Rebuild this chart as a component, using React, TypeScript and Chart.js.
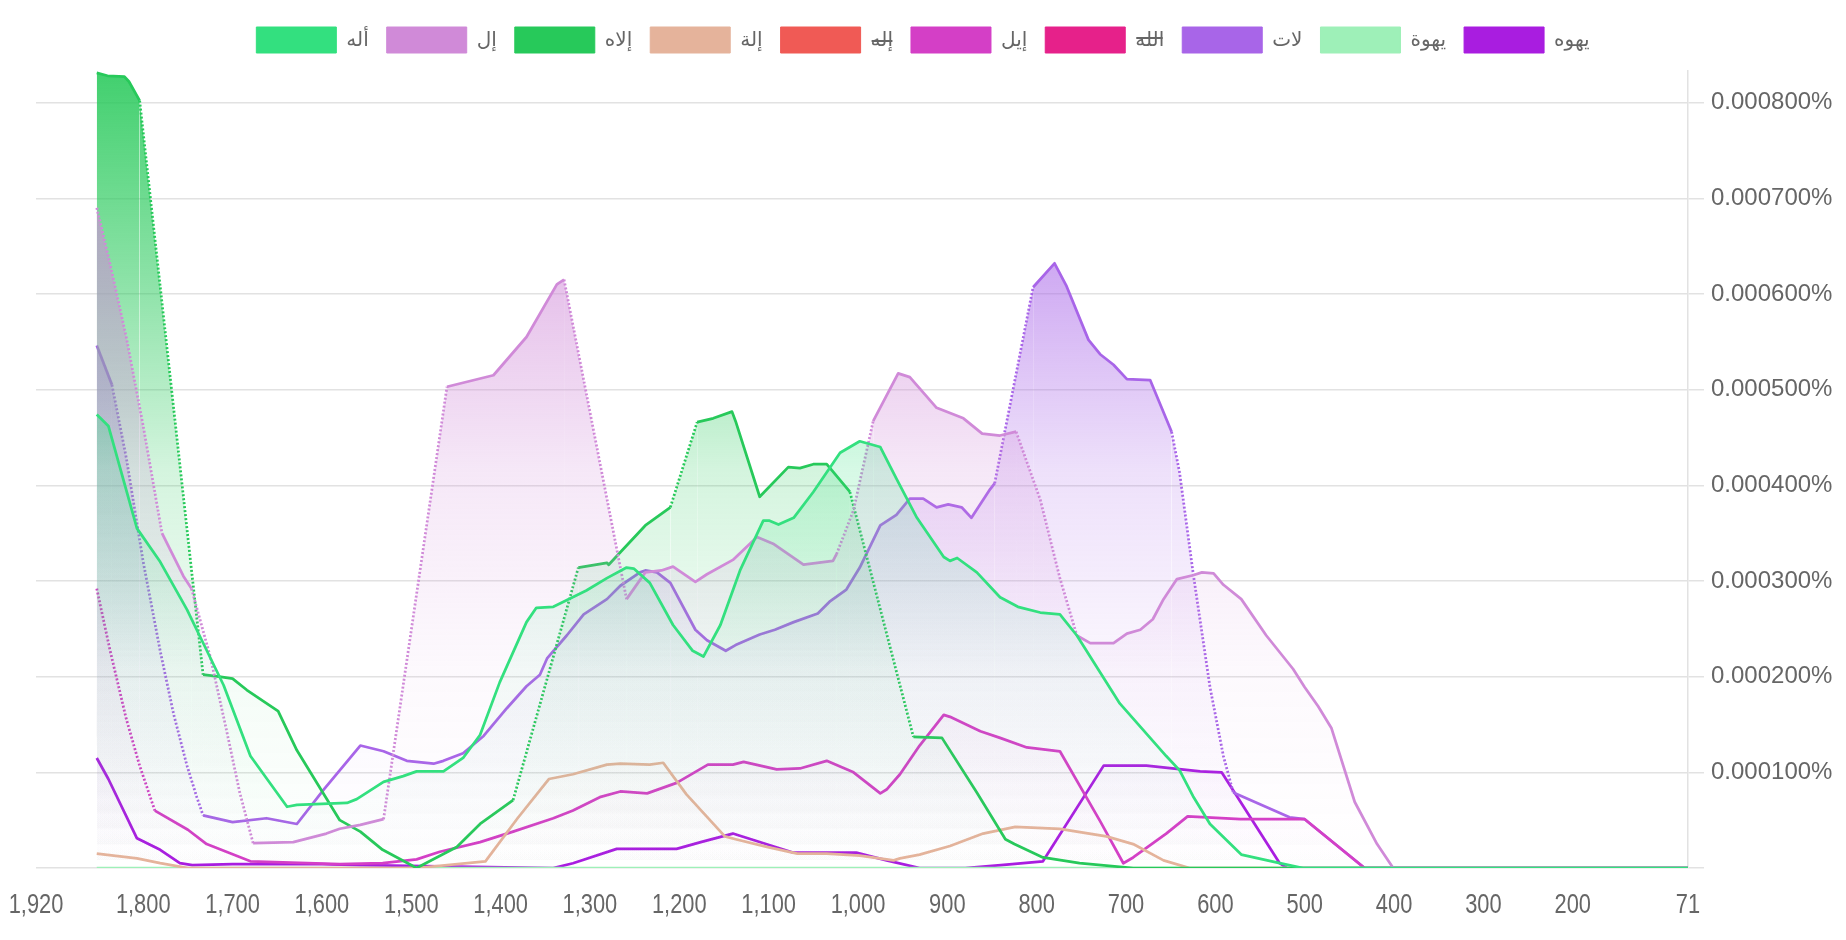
import React, { useEffect, useRef } from 'react';
import { Chart, registerables } from 'chart.js';

Chart.register(...registerables);

// ---- legend / series meta ----
const SERIES_LABELS = ['أله', 'إل', 'إلاه', 'إلة', 'إله', 'إيل', 'الله', 'لات', 'يهوة', 'يهوه'];
const SERIES_COLORS = ['#33e07f', '#d08ad8', '#27c95a', '#e5b39b', '#f05a55', '#d43fc6', '#e6218a', '#a865e8', '#9ef0b8', '#a91de0'];
const SERIES_HIDDEN = [false, false, false, false, true, false, true, false, false, false];

// x-axis tick labels (years, axis reversed)
const X_TICKS = [71, 200, 300, 400, 500, 600, 700, 800, 900, 1000, 1100, 1200, 1300, 1400, 1500, 1600, 1700, 1800, 1920];
const X_MIN = 71;
const X_MAX = 1920;
// y values are in units of 0.0001 %
const Y_MAX = 8.33;

// ---- data: [year, value (x 0.0001 %)] ----
const ALH: [number, number][] = [
  [1852, 4.74], [1839, 4.62], [1807, 3.55], [1781, 3.2], [1751, 2.7], [1737, 2.43], [1710, 1.91], [1680, 1.17],
  [1639, 0.64], [1628, 0.66], [1572, 0.68], [1561, 0.72], [1531, 0.9], [1509, 0.96], [1494, 1.01], [1464, 1.01],
  [1442, 1.15], [1423, 1.39], [1401, 1.94], [1371, 2.57], [1360, 2.72], [1341, 2.73], [1304, 2.9], [1281, 3.03],
  [1259, 3.14], [1251, 3.13], [1233, 2.98], [1207, 2.54], [1185, 2.27], [1173, 2.21], [1154, 2.54], [1132, 3.11],
  [1106, 3.63], [1099, 3.63], [1089, 3.59], [1072, 3.66], [1050, 3.93], [1020, 4.34], [998, 4.46], [975, 4.4],
  [957, 4.07], [934, 3.66], [904, 3.25], [897, 3.21], [889, 3.24], [867, 3.09], [841, 2.83], [821, 2.73],
  [796, 2.67], [774, 2.65], [755, 2.43], [707, 1.72], [655, 1.17], [640, 1.02], [625, 0.75], [606, 0.46],
  [571, 0.14], [528, 0.05], [502, 0], [71, 0],
];
const IL: [number, number][] = [
  [1852, 6.9], [1837, 6.31], [1819, 5.55], [1800, 4.62], [1779, 3.5], [1755, 3.05], [1746, 2.92], [1725, 2.21],
  [1707, 1.45], [1692, 0.79], [1677, 0.26], [1632, 0.27], [1595, 0.36], [1580, 0.41], [1557, 0.45], [1531, 0.51],
  [1460, 5.03], [1408, 5.15], [1371, 5.55], [1337, 6.1], [1329, 6.15], [1259, 2.81], [1238, 3.09], [1220, 3.11],
  [1207, 3.15], [1182, 2.99], [1169, 3.07], [1140, 3.22], [1113, 3.46], [1095, 3.39], [1061, 3.17], [1028, 3.21],
  [1024, 3.28], [1005, 3.74], [983, 4.67], [955, 5.17], [942, 5.13], [912, 4.81], [882, 4.7], [861, 4.54],
  [841, 4.52], [823, 4.56], [796, 3.85], [774, 3.03], [755, 2.43], [740, 2.35], [714, 2.35], [699, 2.45],
  [684, 2.49], [670, 2.6], [658, 2.81], [643, 3.02], [625, 3.06], [615, 3.09], [602, 3.08], [591, 2.96],
  [571, 2.81], [543, 2.43], [513, 2.08], [500, 1.89], [485, 1.69], [470, 1.46], [444, 0.69], [419, 0.25],
  [401, 0], [71, 0],
];
const ILAH: [number, number][] = [
  [1852, 8.31], [1840, 8.28], [1821, 8.27], [1816, 8.22], [1804, 8.02], [1733, 2.02], [1715, 2.0], [1700, 1.98],
  [1684, 1.86], [1649, 1.64], [1628, 1.23], [1580, 0.5], [1557, 0.38], [1532, 0.19], [1494, 0], [1449, 0.22],
  [1423, 0.46], [1386, 0.71], [1313, 3.14], [1281, 3.19], [1279, 3.17], [1266, 3.3], [1244, 3.52], [1238, 3.58],
  [1210, 3.77], [1180, 4.66], [1162, 4.7], [1141, 4.77], [1137, 4.67], [1110, 3.88], [1078, 4.19], [1065, 4.18],
  [1050, 4.22], [1035, 4.22], [1009, 3.93], [938, 1.37], [906, 1.36], [867, 0.79], [835, 0.3], [825, 0.25],
  [793, 0.11], [752, 0.05], [692, 0], [71, 0],
];
const ILAT: [number, number][] = [
  [1852, 0.15], [1807, 0.1], [1781, 0.05], [1750, 0], [1494, 0], [1417, 0.07], [1381, 0.52], [1346, 0.93],
  [1319, 0.98], [1281, 1.08], [1266, 1.09], [1233, 1.08], [1218, 1.1], [1192, 0.77], [1149, 0.33], [1137, 0.3],
  [1102, 0.22], [1068, 0.15], [1035, 0.15], [998, 0.13], [960, 0.08], [953, 0.1], [931, 0.14], [897, 0.23],
  [860, 0.36], [824, 0.43], [774, 0.41], [722, 0.33], [692, 0.25], [658, 0.08], [629, 0], [71, 0],
];
const ILH: [number, number][] = [];
const IIL: [number, number][] = [
  [1852, 2.92], [1837, 2.27], [1819, 1.56], [1804, 1.07], [1787, 0.6], [1750, 0.4], [1729, 0.25], [1680, 0.07],
  [1580, 0.04], [1532, 0.05], [1494, 0.09], [1468, 0.17], [1423, 0.27], [1386, 0.38], [1341, 0.52], [1319, 0.6],
  [1289, 0.74], [1266, 0.8], [1236, 0.78], [1203, 0.89], [1168, 1.08], [1140, 1.08], [1128, 1.11], [1091, 1.03],
  [1065, 1.04], [1035, 1.12], [1005, 1.0], [975, 0.78], [968, 0.82], [953, 0.98], [931, 1.28], [904, 1.6],
  [897, 1.58], [863, 1.43], [841, 1.36], [811, 1.26], [774, 1.22], [729, 0.49], [703, 0.05], [692, 0.11],
  [655, 0.36], [631, 0.54], [572, 0.51], [500, 0.51], [433, 0], [71, 0],
];
const ALLAH: [number, number][] = [];
const LAT: [number, number][] = [
  [1852, 5.46], [1835, 5.05], [1819, 4.29], [1800, 3.2], [1781, 2.27], [1766, 1.61], [1751, 1.07], [1740, 0.74],
  [1733, 0.55], [1700, 0.48], [1662, 0.52], [1628, 0.46], [1598, 0.82], [1557, 1.28], [1531, 1.22], [1505, 1.12],
  [1475, 1.09], [1464, 1.12], [1442, 1.2], [1419, 1.38], [1393, 1.67], [1371, 1.9], [1356, 2.02], [1348, 2.19],
  [1326, 2.43], [1307, 2.65], [1281, 2.81], [1266, 2.95], [1244, 3.09], [1238, 3.11], [1225, 3.09], [1210, 2.98],
  [1182, 2.49], [1169, 2.38], [1148, 2.27], [1137, 2.33], [1110, 2.44], [1093, 2.49], [1072, 2.57], [1045, 2.66],
  [1031, 2.79], [1013, 2.91], [998, 3.14], [975, 3.58], [957, 3.69], [942, 3.86], [927, 3.86], [912, 3.77],
  [899, 3.8], [884, 3.77], [873, 3.66], [852, 3.96], [847, 4.02], [804, 6.07], [780, 6.32], [767, 6.09],
  [742, 5.52], [729, 5.37], [714, 5.26], [699, 5.11], [673, 5.1], [649, 4.56], [640, 4.13], [625, 3.09],
  [606, 1.89], [591, 1.17], [580, 0.79], [517, 0.53], [500, 0.51], [433, 0], [71, 0],
];
const YHWT: [number, number][] = [[1852, 0], [71, 0]];
const YHWH: [number, number][] = [
  [1852, 1.15], [1839, 0.93], [1807, 0.31], [1781, 0.19], [1759, 0.05], [1745, 0.03], [1700, 0.04], [1600, 0.04],
  [1557, 0.03], [1341, 0], [1319, 0.05], [1270, 0.2], [1203, 0.2], [1176, 0.27], [1140, 0.36], [1133, 0.34],
  [1072, 0.16], [1002, 0.16], [968, 0.08], [931, 0], [880, 0], [840, 0.03], [793, 0.07], [725, 1.07],
  [677, 1.07], [617, 1.01], [593, 1.0], [528, 0.05], [520, 0], [71, 0],
];

const SERIES_DATA = [ALH, IL, ILAH, ILAT, ILH, IIL, ALLAH, LAT, YHWT, YHWH];

// dotted (low-confidence) spans per series: [fromYear, toYear]
const DOTTED: [number, number][][] = [
  [],
  [[1852, 1779], [1746, 1677], [1531, 1460], [1329, 1259], [1024, 983], [823, 755]],
  [[1804, 1733], [1386, 1313], [1210, 1180], [1009, 938]],
  [],
  [],
  [[1852, 1787]],
  [],
  [[1835, 1733], [847, 804], [649, 580]],
  [],
  [],
];

function rgba(hex: string, a: number) {
  const n = parseInt(hex.slice(1), 16);
  return `rgba(${(n >> 16) & 255},${(n >> 8) & 255},${n & 255},${a})`;
}

const legendSpacer = {
  id: 'legendSpacer',
  beforeInit(chart: any) {
    const leg = chart.legend;
    if (!leg) return;
    const orig = leg.fit;
    leg.fit = function () {
      orig.call(this);
      this.height += 8;
    };
  },
};

// x tick labels drawn in a condensed face
const xLabels = {
  id: 'xLabels',
  afterDraw(chart: any) {
    const s = chart.scales.x;
    const c = chart.ctx;
    c.save();
    c.fillStyle = '#666';
    c.font = "28px 'Liberation Sans', Arial, sans-serif";
    c.textAlign = 'center';
    c.textBaseline = 'middle';
    for (const v of X_TICKS) {
      const x = s.getPixelForValue(v);
      c.save();
      c.translate(x, s.top + 37);
      c.scale(0.78, 1);
      c.fillText(v.toLocaleString('en-US'), 0, 0);
      c.restore();
    }
    c.restore();
  },
};

export default function App() {
  const ref = useRef<HTMLCanvasElement | null>(null);

  useEffect(() => {
    if (!ref.current) return;
    document.body.style.margin = '0';

    const datasets = SERIES_LABELS.map((label, i) => {
      const color = SERIES_COLORS[i];
      const spans = DOTTED[i];
      return {
        label,
        data: SERIES_DATA[i].map(([x, y]) => ({ x, y })),
        hidden: SERIES_HIDDEN[i],
        borderColor: color,
        borderWidth: 2.75,
        borderJoinStyle: 'round' as const,
        pointRadius: 0,
        pointHoverRadius: 0,
        tension: 0,
        fill: 'origin',
        backgroundColor: (c: any) => {
          const ch = c.chart;
          const area = ch.chartArea;
          if (!area) return rgba(color, 0.2);
          const g = ch.ctx.createLinearGradient(0, area.top, 0, area.bottom);
          g.addColorStop(0, rgba(color, 0.88));
          g.addColorStop(0.25, rgba(color, 0.55));
          g.addColorStop(0.5, rgba(color, 0.2));
          g.addColorStop(0.75, rgba(color, 0.05));
          g.addColorStop(1, rgba(color, 0));
          return g;
        },
        segment: {
          borderDash: (ctx: any) => {
            const x0 = ctx.p0.parsed.x;
            const x1 = ctx.p1.parsed.x;
            for (const [a, b] of spans) {
              if (x0 <= a + 0.01 && x1 >= b - 0.01) return [2, 2];
            }
            return undefined;
          },
        },
      };
    });

    const chart = new Chart(ref.current, {
      type: 'line',
      data: { datasets: datasets as any },
      options: {
        responsive: false,
        animation: false,
        layout: { padding: { left: 0, top: 9, right: 0, bottom: 0 } },
        plugins: {
          tooltip: { enabled: false },
          legend: {
            position: 'top',
            labels: {
              boxWidth: 80,
              boxHeight: 26,
              padding: 18,
              color: '#666',
              font: { size: 20, family: "'Liberation Sans', 'DejaVu Sans', sans-serif" },
              generateLabels: (ch: any) => {
                const base = Chart.defaults.plugins.legend.labels.generateLabels(ch);
                return base.map((it: any, i: number) => ({
                  ...it,
                  fillStyle: SERIES_COLORS[i],
                  strokeStyle: SERIES_COLORS[i],
                  lineWidth: 1,
                  lineDash: [],
                }));
              },
            },
          },
        },
        scales: {
          x: {
            type: 'linear',
            reverse: true,
            min: X_MIN,
            max: X_MAX,
            afterBuildTicks: (s: any) => {
              s.ticks = X_TICKS.map((v) => ({ value: v }));
            },
            afterFit: (s: any) => {
              s.height = 72;
            },
            ticks: { display: false },
            grid: { display: false, drawTicks: false },
            border: { display: false },
          },
          y: {
            position: 'right',
            min: 0,
            max: Y_MAX,
            afterFit: (s: any) => {
              s.width = 158;
            },
            ticks: {
              stepSize: 1,
              includeBounds: false,
              padding: 7,
              color: '#666',
              font: { size: 24, family: "'Liberation Sans', Arial, sans-serif" },
              callback: (v: any) => (Number(v) === 0 ? '' : (Number(v) / 10000).toFixed(6) + '%'),
            },
            grid: { color: '#e2e2e2', lineWidth: 1.5, tickLength: 16 },
            border: { color: '#e2e2e2', width: 1.5 },
          },
          // empty spacer axis on the left that reserves the plot's left margin
          yLeft: {
            type: 'linear',
            position: 'left',
            min: 0,
            max: 1,
            afterFit: (s: any) => {
              s.width = 36;
            },
            ticks: { display: false },
            grid: { display: false, drawTicks: false },
            border: { display: false },
          },
        },
      },
      plugins: [legendSpacer, xLabels],
    });

    return () => chart.destroy();
  }, []);

  return (
    <div style={{ position: 'absolute', left: 0, top: 0, width: 1846, height: 940, background: '#fff' }}>
      <canvas ref={ref} width={1846} height={940} style={{ display: 'block' }} />
    </div>
  );
}
